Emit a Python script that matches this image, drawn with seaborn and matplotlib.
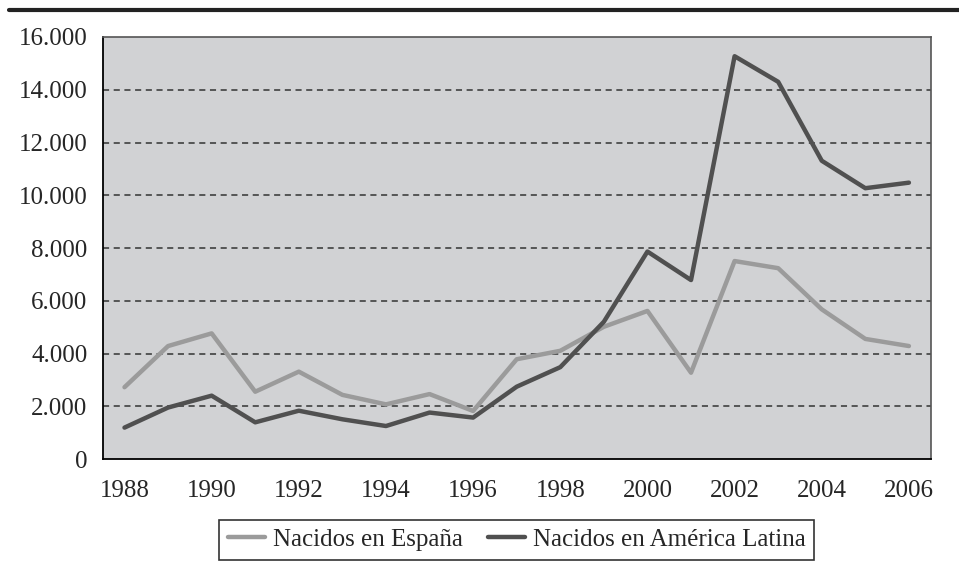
import pandas as pd
import seaborn as sns
import matplotlib.pyplot as plt
from matplotlib.lines import Line2D
from matplotlib.ticker import FuncFormatter

# Values
years = list(range(1988, 2007))
espana = [2730, 4290, 4770, 2560, 3320, 2440, 2080, 2470, 1830, 3790,
          4110, 5020, 5620, 3280, 7510, 7240, 5680, 4560, 4290]
america_latina = [1200, 1960, 2410, 1400, 1840, 1515, 1260, 1770, 1580, 2750,
                  3490, 5210, 7870, 6790, 15270, 14300, 11310, 10270, 10480]
series_names = ["Nacidos en España", "Nacidos en América Latina"]
yticks = list(range(0, 16001, 2000))
xlabels = list(range(1988, 2007, 2))

df = pd.DataFrame({
    "year": years * 2,
    "value": espana + america_latina,
    "serie": [series_names[0]] * len(years) + [series_names[1]] * len(years),
})

sns.set_style("white")
plt.rcParams["font.family"] = ["Liberation Serif", "DejaVu Serif"]

fig = plt.figure(figsize=(9.59, 5.81), dpi=100)
ax = fig.add_axes([0.1071, 0.2095, 0.8634, 0.7269])
ax.set_facecolor("#d1d2d4")

sns.lineplot(data=df, x="year", y="value", hue="serie",
             palette=["#9b9b9b", "#505050"], linewidth=3.2, ax=ax, legend=False)

# category-style axis: points centred between tick marks
ax.set_xlim(years[0] - 0.5, years[-1] + 0.5)
ax.set_xticks(xlabels)
ax.set_xticklabels([str(y) for y in xlabels], fontsize=18)
ax.set_xticks([y - 0.5 for y in years] + [years[-1] + 0.5], minor=True)
ax.tick_params(axis="x", which="major", length=0, pad=15)
ax.tick_params(axis="x", which="minor", length=5, width=1.2, color="black", direction="out")

ax.set_ylim(0, 16000)
ax.set_yticks(yticks)
ax.yaxis.set_major_formatter(FuncFormatter(lambda v, p: f"{int(v):,}".replace(",", ".")))
ax.tick_params(axis="y", length=6, width=1.2, color="black", direction="out", labelsize=18, pad=5)

for y in yticks[1:-1]:
    ax.axhline(y, color="#333333", linestyle=(0, (4, 3)), linewidth=1.1, zorder=0.5)

ax.set_xlabel("")
ax.set_ylabel("")
for side in ["left", "bottom"]:
    ax.spines[side].set_color("black")
    ax.spines[side].set_linewidth(1.3)
for side in ["top", "right"]:
    ax.spines[side].set_color("#555555")
    ax.spines[side].set_linewidth(1.2)

# legend below the chart
handles = [Line2D([0], [0], color="#9b9b9b", linewidth=3.2),
           Line2D([0], [0], color="#505050", linewidth=3.2)]
leg = fig.legend(handles, series_names, loc="center", ncol=2,
                 bbox_to_anchor=(0.5387, 0.0706), fontsize=18, frameon=True,
                 fancybox=False, edgecolor="black", handlelength=1.5,
                 handletextpad=0.3, columnspacing=1.0, borderpad=0.35,
                 borderaxespad=0)
leg.get_frame().set_linewidth(1.2)

# thick rule across the top of the figure
fig.add_artist(Line2D([9 / 959, 1.0], [1 - 10 / 581, 1 - 10 / 581],
                      color="#222222", linewidth=3, transform=fig.transFigure))

fig.savefig("out.png", dpi=100)
